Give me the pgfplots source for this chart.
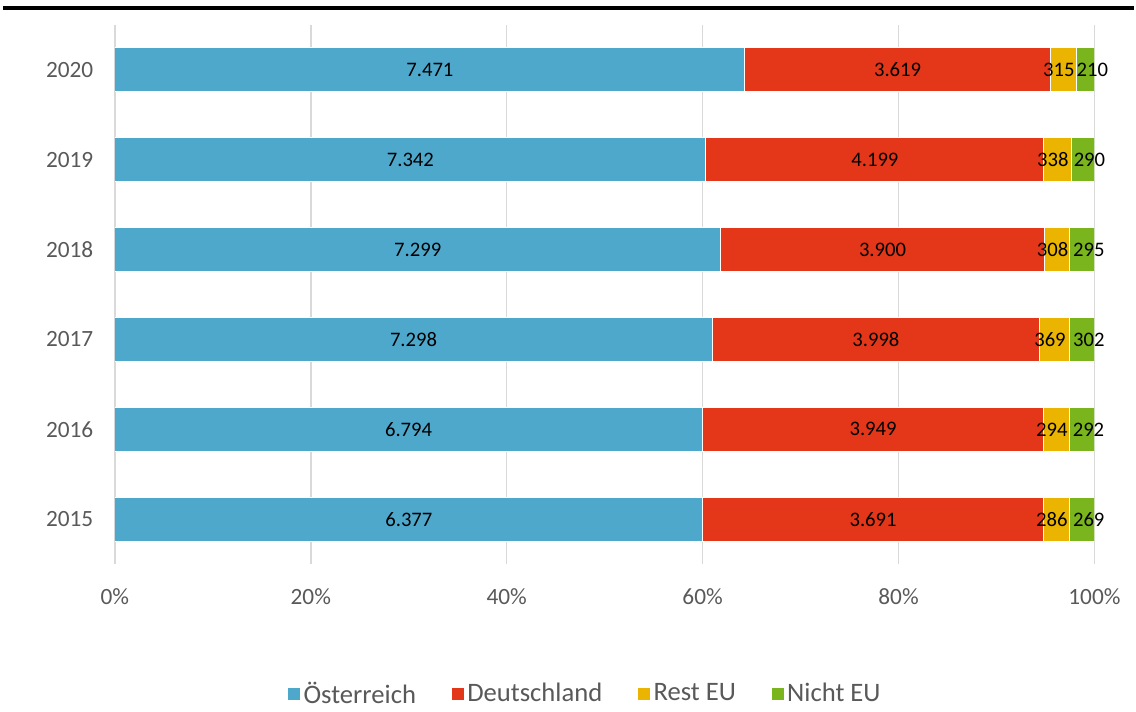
\documentclass[border=0pt]{standalone}
\usepackage{pgfplots}
\usepackage{pgfplotstable}
\pgfplotsset{compat=1.18}
\usetikzlibrary{calc}
\usepackage{fontspec}
\setmainfont{Carlito}
\definecolor{cAT}{RGB}{78,168,203}
\definecolor{cDE}{RGB}{228,54,24}
\definecolor{cREST}{RGB}{234,180,0}
\definecolor{cNON}{RGB}{122,181,30}
\definecolor{tickgray}{RGB}{89,89,89}
\definecolor{gridgray}{RGB}{217,217,217}

\pgfplotstableread{
idx year at de rest non
0 2015 6377 3691 286 269
1 2016 6794 3949 294 292
2 2017 7298 3998 369 302
3 2018 7299 3900 308 295
4 2019 7342 4199 338 290
5 2020 7471 3619 315 210
}\data
\pgfplotstablecreatecol[expr={\thisrow{at}+\thisrow{de}+\thisrow{rest}+\thisrow{non}}]{tot}\data
\pgfplotstablecreatecol[expr={\thisrow{at}/\thisrow{tot}*100}]{pat}\data
\pgfplotstablecreatecol[expr={\thisrow{de}/\thisrow{tot}*100}]{pde}\data
\pgfplotstablecreatecol[expr={\thisrow{rest}/\thisrow{tot}*100}]{prest}\data
\pgfplotstablecreatecol[expr={\thisrow{non}/\thisrow{tot}*100}]{pnon}\data

\pgfplotsset{/pgf/number format/assume math mode=true}

\begin{document}
\fontsize{18}{21}\selectfont
\begin{tikzpicture}
\begin{axis}[
  name=ax,
  scale only axis,
  width=735.75pt, height=405pt,
  xbar stacked,
  bar width=0.49,
  xmin=0, xmax=100,
  ymin=-0.5, ymax=5.5,
  xtick={0,20,40,60,80,100},
  xticklabel={\pgfmathprintnumber{\tick}\%},
  ytick={0,1,2,3,4,5},
  yticklabels={2015,2016,2017,2018,2019,2020},
  xmajorgrids,
  major grid style={draw=gridgray, line width=1.2pt},
  axis line style={draw=none},
  major tick length=0pt,
  tick label style={font=\fontsize{17.5}{21}\selectfont, text=tickgray},
  xticklabel style={yshift=-12pt},
  yticklabel style={xshift=-10pt},
  point meta=explicit,
  nodes near coords={\pgfmathprintnumber[fixed,precision=0,1000 sep={.}]{\pgfplotspointmeta}},
  every node near coord/.append style={font=\fontsize{15.5}{18}\selectfont, text=black, anchor=center, inner sep=0pt},
  legend columns=4,
  legend style={draw=none, at={(0.480,-0.241)}, anchor=center, font=\fontsize{20}{23}\selectfont, text=tickgray, /tikz/every even column/.append style={column sep=24pt}},
  legend image code/.code={\fill[#1] (-3pt,-4.5pt) rectangle (6.75pt,5.25pt);},
]
\addplot[fill=cAT, draw=white, line width=0.75pt] table[y=idx, x=pat, meta=at] {\data};
\addplot[fill=cDE, draw=white, line width=0.75pt] table[y=idx, x=pde, meta=de] {\data};
\addplot[fill=cREST, draw=white, line width=0.75pt, every node near coord/.append style={xshift=-3.5pt}] table[y=idx, x=prest, meta=rest] {\data};
\addplot[fill=cNON, draw=white, line width=0.75pt, every node near coord/.append style={xshift=5pt}] table[y=idx, x=pnon, meta=non] {\data};
\legend{Österreich, Deutschland, Rest EU, Nicht EU}
\end{axis}
\draw[line width=2.4pt] ($(ax.north west)+(-84pt,12.75pt)$) -- ($(ax.north east)+(30pt,12.75pt)$);
\useasboundingbox ($(ax.south west)+(-86.25pt,-106.5pt)$) rectangle ($(ax.north east)+(30pt,18.75pt)$);
\end{tikzpicture}
\end{document}
